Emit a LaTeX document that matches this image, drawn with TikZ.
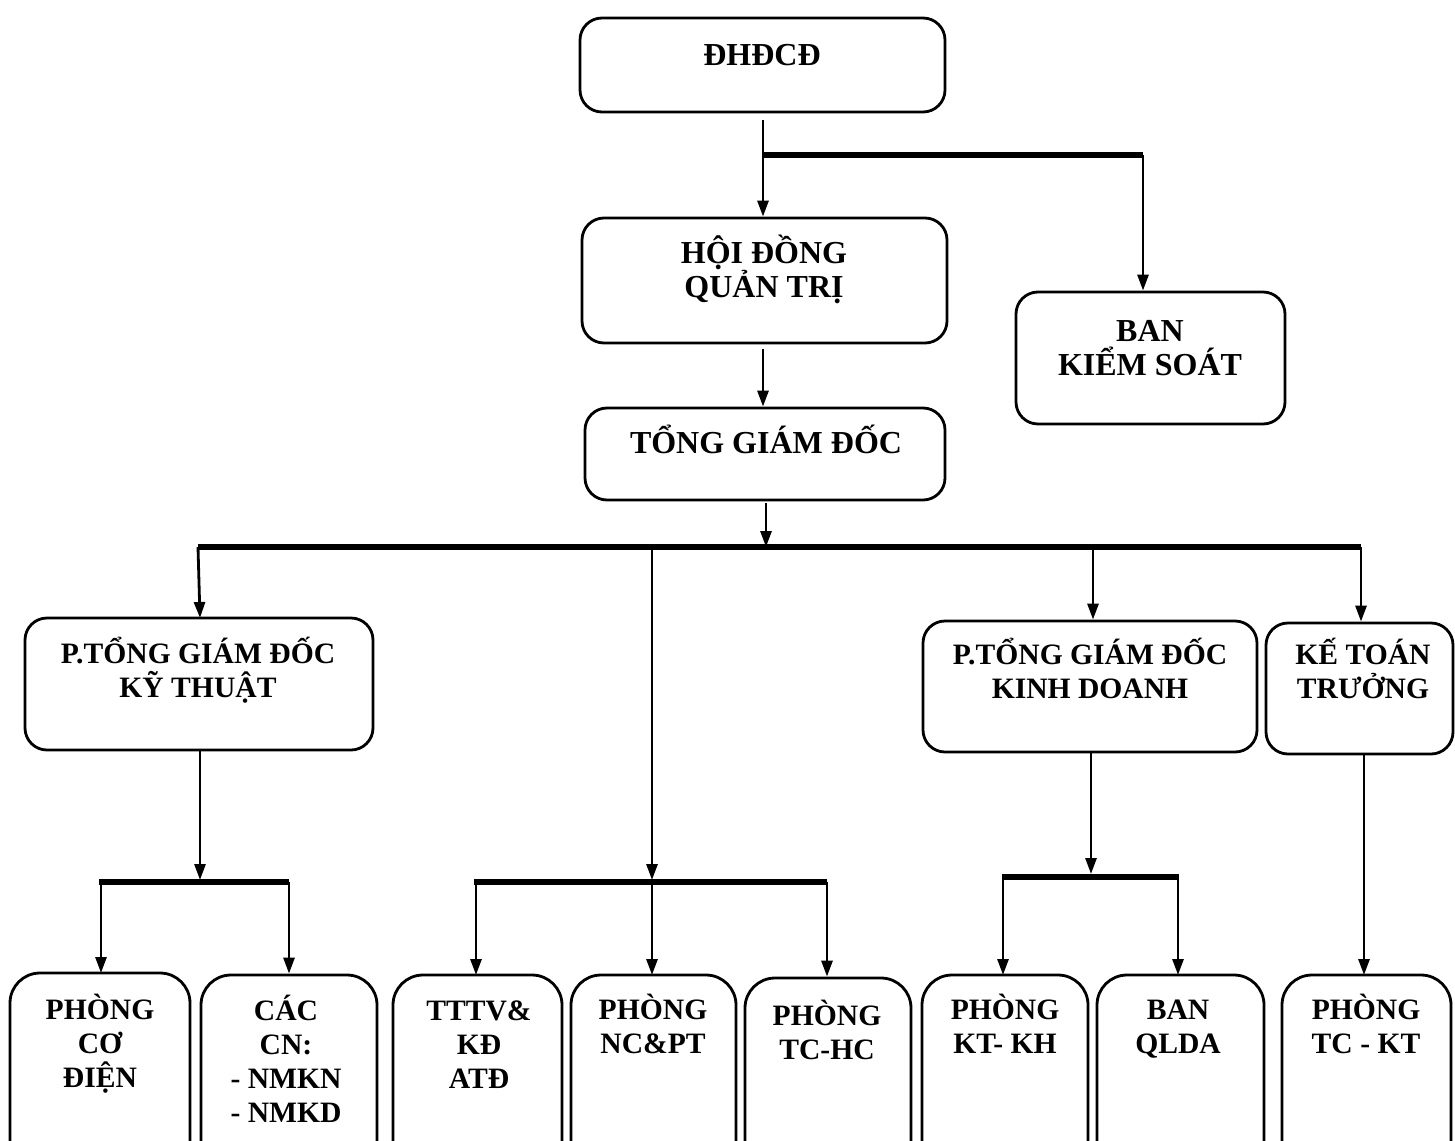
\documentclass[tikz,border=0pt]{standalone}
\usepackage{fontspec}
\setmainfont{Liberation Serif}
\usetikzlibrary{arrows.meta}
\tikzset{
  box/.style={draw, line width=2.8pt, rounded corners=22pt, inner sep=0pt},
  lbl/.style={anchor=base, align=center, inner sep=0pt, font=\fontsize{32}{34}\selectfont\bfseries},
  slbl/.style={lbl, font=\fontsize{29.6}{34}\selectfont\bfseries},
  arr/.style={line width=2.8pt, -{Triangle[length=16pt,width=11pt]}},
  bus/.style={line width=5.5pt},
}
\newcommand{\bx}[5]{\node[box, minimum width={#4-#2}, minimum height={#5-#3}] (#1) at ({(#2+#4)/2},{(#3+#5)/2}) {};}
\begin{document}
\begin{tikzpicture}[x=1pt,y=-1pt]
\useasboundingbox (0,0) rectangle (1455,1140);
\clip (0,0) rectangle (1455,1140);
% boxes
\bx{dh}{580}{18}{945}{112}
\bx{hd}{582}{218}{947}{343}
\bx{bk}{1016}{292}{1285}{424}
\bx{tg}{585}{408}{945}{500}
\bx{pkt}{25}{618}{373}{750}
\bx{pkd}{923}{621}{1257}{752}
\bx{ktt}{1266}{623}{1453}{754}
\tikzset{box/.append style={rounded corners=30pt}}
\bx{b1}{10}{973}{190}{1180}
\bx{b2}{201}{975}{377}{1180}
\bx{b3}{393}{975}{562}{1180}
\bx{b4}{571}{975}{736}{1180}
\bx{b5}{745}{978}{911}{1180}
\bx{b6}{922}{975}{1088}{1180}
\bx{b7}{1097}{975}{1264}{1180}
\bx{b8}{1282}{975}{1451}{1180}
% labels (anchor base = baseline of last line)
\node[lbl] (tdh) at (762,65) {ĐHĐCĐ};
\node[lbl] (thd) at (764,297) {HỘI ĐỒNG\\QUẢN TRỊ};
\node[lbl] (tbk) at (1150,375) {BAN\\KIỂM SOÁT};
\node[lbl] (ttg) at (766,453) {TỔNG GIÁM ĐỐC};
\node[slbl] (tpkt) at (198,697) {P.TỔNG GIÁM ĐỐC\\KỸ THUẬT};
\node[slbl] (tpkd) at (1090,698) {P.TỔNG GIÁM ĐỐC\\KINH DOANH};
\node[slbl] (tktt) at (1363,698) {KẾ TOÁN\\TRƯỞNG};
\node[slbl] (tb1) at (100,1087) {PHÒNG\\CƠ\\ĐIỆN};
\node[slbl] (tb2) at (286,1122) {CÁC\\CN:\\- NMKN\\- NMKD};
\node[slbl] (tb3) at (479,1088) {TTTV\&\\KĐ\\ATĐ};
\node[slbl] (tb4) at (653,1053) {PHÒNG\\NC\&PT};
\node[slbl] (tb5) at (827,1059) {PHÒNG\\TC-HC};
\node[slbl] (tb6) at (1005,1053) {PHÒNG\\KT- KH};
\node[slbl] (tb7) at (1178,1053) {BAN\\QLDA};
\node[slbl] (tb8) at (1366,1053) {PHÒNG\\TC - KT};
% coordinates
\coordinate (j0) at (763,120);
\coordinate (j1) at (763,155);
\coordinate (j2) at (1143,155);
\coordinate (tgs) at (766,503);
\coordinate (bl) at (198,547);
\coordinate (bm) at (652,547);
\coordinate (bkd) at (1093,547);
\coordinate (br) at (1361,547);
\coordinate (bmid) at (766,547);
\coordinate (l1) at (99,882);
\coordinate (l2) at (289,882);
\coordinate (m1) at (474,882);
\coordinate (m2) at (827,882);
\coordinate (k1) at (1002,877);
\coordinate (k2) at (1179,877);
% top connectors
\draw[arr] (j0) -- (j0 |- hd.north);
\draw[bus] (j1) -- (j2);
\draw[arr] (j2) -- (j2 |- bk.north);
\draw[arr] ([yshift=-5pt]hd.south -| j1) -- (j1 |- tg.north);
\draw[arr] (tgs) -- (bmid);
\draw[bus] (bl) -- (br);
\draw[arr] (bl) -- (200,618);
\draw[arr] (bm) -- (652,880);
\draw[arr] (bkd) -- (bkd |- pkd.north);
\draw[arr] (br) -- (br |- ktt.north);
% left group
\draw[arr] (200,750) -- (200,880);
\draw[bus] (l1) -- (l2);
\draw[arr] (101,882) -- (101,973);
\draw[arr] (l2) -- (l2 |- b2.north);
% middle group
\draw[bus] (m1) -- (m2);
\draw[arr] (476,882) -- (476,975);
\draw[arr] (652,882) -- (652,975);
\draw[arr] (m2) -- (m2 |- b5.north);
% kinh doanh group
\draw[arr] (1091,752) -- (1091,874);
\draw[bus] (k1) -- (k2);
\draw[arr] (1003,877) -- (1003,975);
\draw[arr] (1178,877) -- (1178,975);
% ke toan
\draw[arr] (1364,754) -- (1364,975);
\end{tikzpicture}
\end{document}
